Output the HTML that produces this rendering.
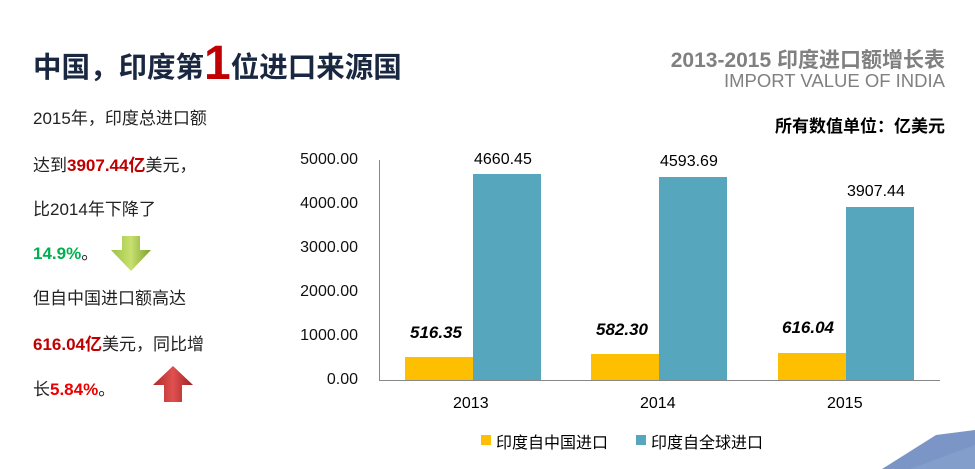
<!DOCTYPE html>
<html><head><meta charset="utf-8"><style>
body{margin:0;width:975px;height:469px;background:#fff;position:relative;overflow:hidden;font-family:"Liberation Sans","Noto Sans CJK SC",sans-serif}
.a{position:absolute;white-space:nowrap}
.t{font-size:17px;color:#222}
.r{color:#c00000;font-weight:bold}
.g{color:#00b050;font-weight:bold}
.yl{font-size:16px;color:#111;text-align:right;width:90px;left:268px}
.bar{position:absolute}
.dl{font-size:17px;font-weight:bold;font-style:italic;color:#000}
</style></head><body>
<div class="a" style="left:33px;top:36px;font-size:28.5px;font-weight:bold;color:#1a2740">中国，印度第<span style="color:#c00000;font-size:48px;vertical-align:-2px">1</span>位进口来源国</div>
<div class="a" style="right:30px;top:44px;font-size:21px;font-weight:bold;color:#808080">2013-2015 印度进口额增长表</div>
<div class="a" style="right:30px;top:70px;font-size:18.5px;color:#808080">IMPORT VALUE OF INDIA</div>
<div class="a" style="right:30px;top:112px;font-size:17px;font-weight:bold;color:#000">所有数值单位：亿美元</div>

<div class="a t" style="left:33px;top:104px">2015年，印度总进口额</div>
<div class="a t" style="left:33px;top:151px">达到<span class="r">3907.44亿</span>美元，</div>
<div class="a t" style="left:33px;top:195px">比2014年下降了</div>
<div class="a t" style="left:33px;top:239px"><span class="g">14.9%</span>。</div>
<div class="a t" style="left:33px;top:284px">但自中国进口额高达</div>
<div class="a t" style="left:33px;top:330px"><span class="r">616.04亿</span>美元，同比增</div>
<div class="a t" style="left:33px;top:375px">长<span class="r" style="color:#e00">5.84%</span>。</div>

<svg class="a" style="left:108px;top:234px" width="46" height="40"><defs><linearGradient id="gg" x1="0" x2="1"><stop offset="0" stop-color="#9bc142"/><stop offset="0.5" stop-color="#c8e070"/><stop offset="1" stop-color="#7aa02a"/></linearGradient></defs><polygon points="14,2 32,2 32,16 43,16 23,37 3,16 14,16" fill="url(#gg)"/></svg>
<svg class="a" style="left:150px;top:364px" width="46" height="40"><defs><linearGradient id="rg" x1="0" x2="1"><stop offset="0" stop-color="#b02a2a"/><stop offset="0.5" stop-color="#e05050"/><stop offset="1" stop-color="#a02020"/></linearGradient></defs><polygon points="23,2 43,21 32,21 32,38 14,38 14,21 3,21" fill="url(#rg)"/></svg>

<div class="a yl" style="top:151px">5000.00</div>
<div class="a yl" style="top:195px">4000.00</div>
<div class="a yl" style="top:239px">3000.00</div>
<div class="a yl" style="top:283px">2000.00</div>
<div class="a yl" style="top:327px">1000.00</div>
<div class="a yl" style="top:371px">0.00</div>

<div class="bar" style="left:379px;top:160px;width:1px;height:221px;background:#888"></div>
<div class="bar" style="left:379px;top:380px;width:561px;height:1px;background:#888"></div>

<div class="bar" style="left:405px;top:357px;width:68px;height:23px;background:#fdbf00"></div>
<div class="bar" style="left:473px;top:174px;width:68px;height:206px;background:#56a7bd"></div>
<div class="bar" style="left:591px;top:354px;width:68px;height:26px;background:#fdbf00"></div>
<div class="bar" style="left:659px;top:177px;width:68px;height:203px;background:#56a7bd"></div>
<div class="bar" style="left:778px;top:353px;width:68px;height:27px;background:#fdbf00"></div>
<div class="bar" style="left:846px;top:207px;width:68px;height:173px;background:#56a7bd"></div>

<div class="a dl" style="left:410px;top:323px">516.35</div>
<div class="a dl" style="left:596px;top:320px">582.30</div>
<div class="a dl" style="left:782px;top:318px">616.04</div>
<div class="a" style="left:474px;top:151px;font-size:16px">4660.45</div>
<div class="a" style="left:660px;top:153px;font-size:16px">4593.69</div>
<div class="a" style="left:847px;top:183px;font-size:16px">3907.44</div>

<div class="a" style="left:453px;top:395px;font-size:16px">2013</div>
<div class="a" style="left:640px;top:395px;font-size:16px">2014</div>
<div class="a" style="left:827px;top:395px;font-size:16px">2015</div>

<div class="bar" style="left:481px;top:435px;width:10px;height:10px;background:#fdbf00"></div>
<div class="a" style="left:496px;top:429px;font-size:16px">印度自中国进口</div>
<div class="bar" style="left:636px;top:435px;width:10px;height:10px;background:#56a7bd"></div>
<div class="a" style="left:651px;top:429px;font-size:16px">印度自全球进口</div>

<svg class="a" style="left:870px;top:420px" width="105" height="49"><polygon points="12,49 66,15 105,10 105,49" fill="#7b96c6"/><polygon points="40,49 105,25 105,49" fill="#8aa3cf" opacity="0.6"/></svg>
</body></html>
